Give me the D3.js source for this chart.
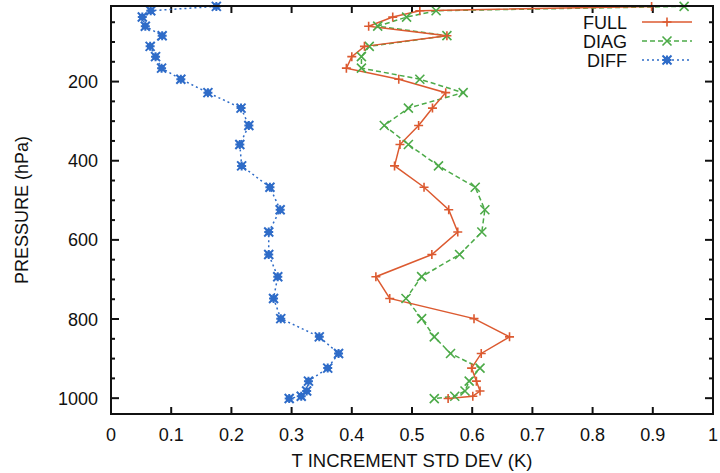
<!DOCTYPE html>
<html><head><meta charset="utf-8">
<script src="https://cdn.jsdelivr.net/npm/d3@7"></script>
<style>body{margin:0;background:#fff}svg{display:block}text{font-family:"Liberation Sans",Arial,sans-serif;fill:#111}</style>
</head><body><svg id="c" width="720" height="473"></svg>
<script>
const pressure = [10,21,37,60,84,111,137,166,194,228,267,311,359,413,467,524,580,637,693,748,799,845,887,924,957,982,995,1001];
const full = [0.898,0.513,0.468,0.428,0.558,0.421,0.400,0.391,0.478,0.556,0.534,0.511,0.480,0.471,0.520,0.561,0.576,0.533,0.440,0.463,0.603,0.662,0.615,0.599,0.607,0.613,0.601,0.560];
const diag = [0.952,0.540,0.491,0.443,0.558,0.429,0.416,0.416,0.513,0.585,0.494,0.454,0.494,0.544,0.605,0.621,0.616,0.579,0.516,0.490,0.516,0.537,0.564,0.613,0.595,0.588,0.571,0.537];
const diff = [0.175,0.066,0.052,0.057,0.085,0.065,0.074,0.084,0.116,0.161,0.216,0.229,0.214,0.217,0.264,0.281,0.262,0.262,0.277,0.270,0.282,0.346,0.378,0.360,0.328,0.325,0.316,0.296];
const seriesNames = ["FULL","DIAG","DIFF"];
const xTicks = [0,0.1,0.2,0.3,0.4,0.5,0.6,0.7,0.8,0.9,1];
const yTicks = [200,400,600,800,1000];
const yMinor = d3.range(50,1001,50);

const svg = d3.select("#c");
const L=111,R=713,T=6,B=414;
const x = d3.scaleLinear().domain([0,1]).range([L,R]);
const y = d3.scaleLinear().domain([9,1040]).range([T,B]);

const colors = {FULL:"#dc5a30",DIAG:"#4caa48",DIFF:"#2f6cc8"};
const dashes = {FULL:null,DIAG:"5,3",DIFF:"2,3"};
const data = {FULL:full,DIAG:diag,DIFF:diff};

svg.append("defs").append("clipPath").attr("id","clip").append("rect")
  .attr("x",L).attr("y",T).attr("width",R-L).attr("height",B-T);

const g = svg.append("g");
const ax = g.append("g");
ax.selectAll(".xb").data(xTicks.slice(1,-1)).join("line").attr("class","xb")
  .attr("x1",d=>x(d)).attr("x2",d=>x(d)).attr("y1",B).attr("y2",B-7).attr("stroke","#111").attr("stroke-width",2);
ax.selectAll(".xt").data(xTicks.slice(1,-1)).join("line").attr("class","xt")
  .attr("x1",d=>x(d)).attr("x2",d=>x(d)).attr("y1",T).attr("y2",T+7).attr("stroke","#111").attr("stroke-width",2);
ax.selectAll(".yl").data(yMinor).join("line").attr("class","yl")
  .attr("x1",L).attr("x2",d=>L+(d%200===0?8:4)).attr("y1",d=>y(d)).attr("y2",d=>y(d)).attr("stroke","#111").attr("stroke-width",2);
ax.selectAll(".yr").data(yMinor).join("line").attr("class","yr")
  .attr("x1",R).attr("x2",d=>R-(d%200===0?8:4)).attr("y1",d=>y(d)).attr("y2",d=>y(d)).attr("stroke","#111").attr("stroke-width",2);

g.selectAll(".xlab").data(xTicks).join("text").attr("class","xlab")
  .attr("x",d=>x(d)).attr("y",441).attr("text-anchor","middle").attr("font-size",18)
  .text(d=>d3.format("~g")(d));
g.selectAll(".ylab").data(yTicks).join("text").attr("class","ylab")
  .attr("x",98).attr("y",d=>y(d)+6.5).attr("text-anchor","end").attr("font-size",18)
  .text(d=>d);
svg.append("text").attr("x",(L+R)/2).attr("y",467).attr("text-anchor","middle").attr("font-size",18.5)
  .text("T INCREMENT STD DEV (K)");
svg.append("text").attr("transform","translate(28,210) rotate(-90)").attr("text-anchor","middle").attr("font-size",18)
  .text("PRESSURE (hPa)");

function marker(sel,name,cx,cy){
  const c=colors[name], s=4.5;
  const m=sel.append("g").attr("transform",`translate(${cx},${cy})`).attr("stroke",c).attr("stroke-width",name==="DIFF"?2:1.6).attr("fill","none");
  if(name==="FULL"){m.append("path").attr("d",`M${-s},0H${s}M0,${-s}V${s}`);}
  else if(name==="DIAG"){m.append("path").attr("d",`M${-s},${-s}L${s},${s}M${-s},${s}L${s},${-s}`);}
  else {m.append("path").attr("d",`M${-s},${-s}L${s},${s}M${-s},${s}L${s},${-s}M${-s},0H${s}M0,${-s}V${s}`);
        m.append("rect").attr("x",-2.5).attr("y",-2.5).attr("width",5).attr("height",5).attr("stroke-width",1.2);}
}

const plot = svg.append("g").attr("clip-path","url(#clip)");
const line = d3.line().x(d=>x(d[0])).y(d=>y(d[1]));
seriesNames.slice().reverse().forEach(name=>{
  const pts = data[name].map((v,i)=>[v,pressure[i]]);
  plot.append("path").attr("d",line(pts)).attr("fill","none").attr("stroke",colors[name])
    .attr("stroke-width",1.5).attr("stroke-dasharray",dashes[name]);
});
seriesNames.slice().reverse().forEach(name=>{
  const mg = svg.append("g");
  data[name].forEach((v,i)=>marker(mg,name,x(v),y(pressure[i])));
});

svg.append("rect").attr("x",L).attr("y",T).attr("width",R-L).attr("height",B-T)
  .attr("fill","none").attr("stroke","#111").attr("stroke-width",2);

const lg = svg.append("g");
seriesNames.forEach((name,i)=>{
  const yy = 22+i*19;
  lg.append("text").attr("x",627).attr("y",yy+6.5).attr("text-anchor","end").attr("font-size",18).text(name);
  lg.append("line").attr("x1",642).attr("x2",692).attr("y1",yy).attr("y2",yy)
    .attr("stroke",colors[name]).attr("stroke-width",1.5).attr("stroke-dasharray",dashes[name]);
  marker(lg,name,667,yy);
});
</script></body></html>
